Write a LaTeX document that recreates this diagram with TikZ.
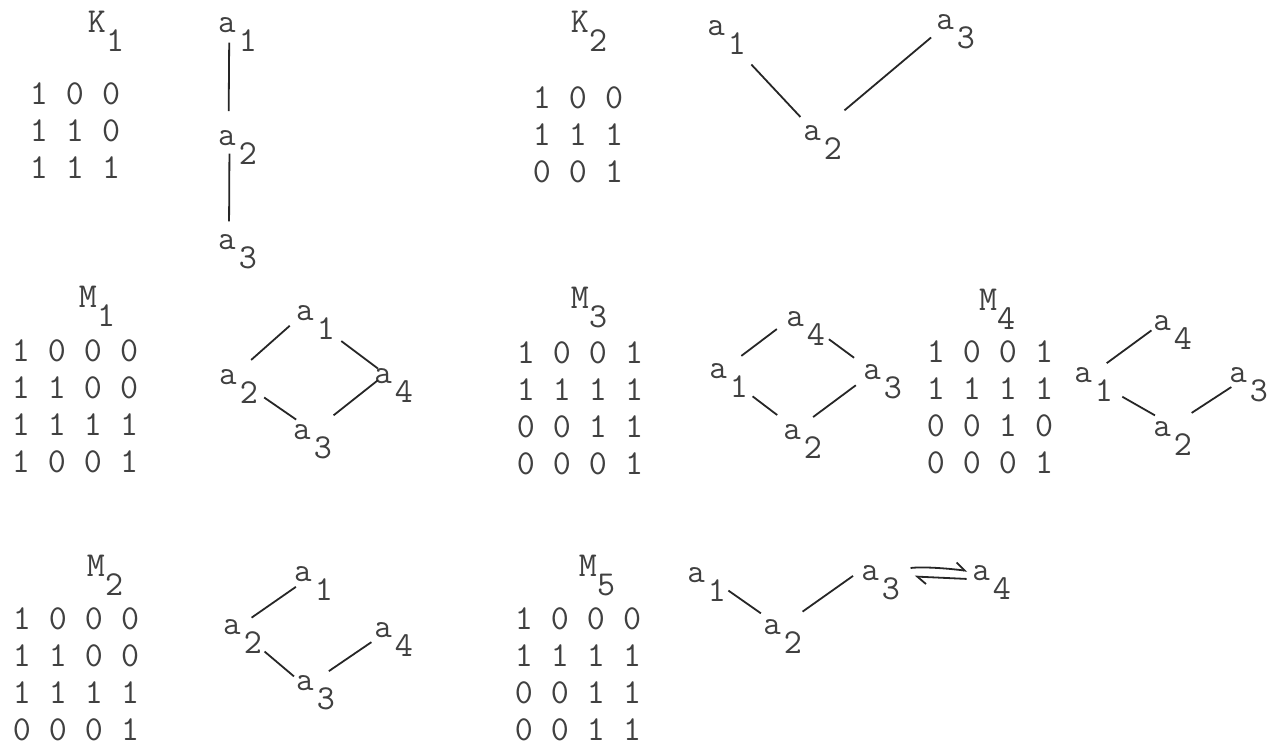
\documentclass[tikz,border=0pt]{standalone}
\usepackage{fontspec}
\usetikzlibrary{arrows.meta}
\newcommand{\bigfont}{\fontsize{35}{37}\selectfont}
\newcommand{\smallfont}{\fontsize{34}{34}\selectfont}
\newcommand{\sub}[2][3pt]{\rlap{\kern#1\smash{\raisebox{-0.88\height}{\bigfont #2}}}}

\begin{document}
\begin{tikzpicture}[x=1pt, y=-1pt, line width=1.8pt,
    every node/.style={text=black!75, font=\ttfamily\bigfont},
    mat/.style={align=center, inner sep=0},
    ttl/.style={inner sep=0},
    vx/.style={circle, inner sep=0, minimum size=24pt, font=\ttfamily\smallfont},
    ends/.style 2 args={draw=black!85, shorten <=#1pt, shorten >=#2pt},
    harp/.style={-{Straight Barb[harpoon, length=9pt, width=14pt]}}]
    \useasboundingbox (0,0) rectangle (1271,748);

    \node (k1) [ttl] at (97,22) {K\sub[0pt]{1}};
    \node (k1m) [mat] at (75,131) {1 0 0\\1 1 0\\1 1 1};
    \node (k1a1) [vx] at (227,25) {a\sub{1}};
    \node (k1a2) [vx] at (227,138) {a\sub{2}};
    \node (k1a3) [vx] at (227,242) {a\sub{3}};
    \draw[ends={5}{14}] (k1a1.-80) -- (k1a2.83);
    \draw[ends={3}{8}] (k1a2.-79) -- (k1a3.81);

    \node (k2) [ttl] at (580,22) {K\sub[0pt]{2}};
    \node (k2m) [mat] at (578,135) {1 0 0\\1 1 1\\0 0 1};
    \node (k2a1) [vx] at (716,28) {a\sub{1}};
    \node (k2a2) [vx] at (812,133) {a\sub{2}};
    \node (k2a3) [vx] at (945,22) {a\sub{3}};
    \draw[ends={38}{7}] (k2a1.-43) -- (k2a2.122);
    \draw[ends={27}{8}] (k2a2.24) -- (k2a3.-127);

    \node (m1) [ttl] at (88,297) {M\sub[0pt]{1}};
    \node (m1m) [mat] at (75,406) {1 0 0 0\\1 1 0 0\\1 1 1 1\\1 0 0 1};
    \node (m1a1) [vx] at (305,313) {a\sub{1}};
    \node (m1a2) [vx] at (228,377) {a\sub{2}};
    \node (m1a3) [vx] at (302,432) {a\sub{3}};
    \node (m1a4) [vx] at (383,376) {a\sub{4}};
    \draw[ends={7}{16}] (m1a1.-141) -- (m1a2.30);
    \draw[ends={33}{-4}] (m1a1.-40) -- (m1a4.130);
    \draw[ends={29}{1}] (m1a2.-18) -- (m1a3.113);
    \draw[ends={24}{-6}] (m1a3.8) -- (m1a4.-141);

    \node (m3) [ttl] at (580,298) {M\sub[0pt]{3}};
    \node (m3m) [mat] at (580,408) {1 0 0 1\\1 1 1 1\\0 0 1 1\\0 0 0 1};
    \node (m3a1) [vx] at (718,371) {a\sub{1}};
    \node (m3a2) [vx] at (792,432) {a\sub{2}};
    \node (m3a3) [vx] at (872,372) {a\sub{3}};
    \node (m3a4) [vx] at (795,319) {a\sub{4}};
    \draw[ends={15}{8}] (m3a1.28) -- (m3a4.-156);
    \draw[ends={27}{10}] (m3a4.-19) -- (m3a3.140);
    \draw[ends={30}{10}] (m3a1.-34) -- (m3a2.122);
    \draw[ends={13}{8}] (m3a2.34) -- (m3a3.-139);

    \node (m4) [ttl] at (988,300) {M\sub[0pt]{4}};
    \node (m4m) [mat] at (990,407) {1 0 0 1\\1 1 1 1\\0 0 1 0\\0 0 0 1};
    \node (m4a1) [vx] at (1083,375) {a\sub{1}};
    \node (m4a2) [vx] at (1162,429) {a\sub{2}};
    \node (m4a3) [vx] at (1238,375) {a\sub{3}};
    \node (m4a4) [vx] at (1162,323) {a\sub{4}};
    \draw[ends={14}{0}] (m4a1.16) -- (m4a4.-145);
    \draw[ends={32}{3}] (m4a1.-27) -- (m4a2.110);
    \draw[ends={21}{1}] (m4a2.21) -- (m4a3.-117);

    \node (m2) [ttl] at (96,566) {M\sub[0pt]{2}};
    \node (m2m) [mat] at (76,674) {1 0 0 0\\1 1 0 0\\1 1 1 1\\0 0 0 1};
    \node (m2a1) [vx] at (303,574) {a\sub{1}};
    \node (m2a2) [vx] at (232,627) {a\sub{2}};
    \node (m2a3) [vx] at (305,683) {a\sub{3}};
    \node (m2a4) [vx] at (383,630) {a\sub{4}};
    \draw[ends={2}{9}] (m2a1.-115) -- (m2a2.19);
    \draw[ends={28}{0}] (m2a2.-30) -- (m2a3.149);
    \draw[ends={14}{4}] (m2a3.18) -- (m2a4.-130);

    \node (m5) [ttl] at (588,566) {M\sub[0pt]{5}};
    \node (m5m) [mat] at (578,674) {1 0 0 0\\1 1 1 1\\0 0 1 1\\0 0 1 1};
    \node (m5a1) [vx] at (696,575) {a\sub{1}};
    \node (m5a2) [vx] at (772,627) {a\sub{2}};
    \node (m5a3) [vx] at (870,573) {a\sub{3}};
    \node (m5a4) [vx] at (981,573) {a\sub{4}};
    \draw[ends={24}{5}] (m5a1.-8) -- (m5a2.123);
    \draw[ends={22}{5}] (m5a2.12) -- (m5a3.180);
    \draw[ends={28}{1}, harp] (m5a3.3) to[bend left=8] (m5a4.171);
    \draw[ends={3}{32}, harp] (m5a4.-152) -- (m5a3.-9);
\end{tikzpicture}
\end{document}
